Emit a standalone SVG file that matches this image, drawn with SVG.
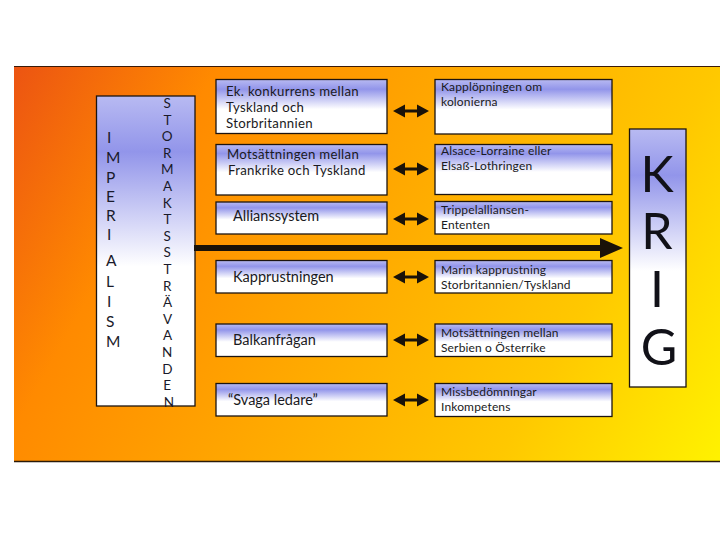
<svg xmlns="http://www.w3.org/2000/svg" width="720" height="540" viewBox="0 0 720 540">
  <defs>
    <linearGradient id="bg" gradientUnits="userSpaceOnUse" x1="14" y1="66" x2="720" y2="462">
      <stop offset="0" stop-color="#ec5412"/>
      <stop offset="0.22" stop-color="#ff8a00"/>
      <stop offset="0.5" stop-color="#ffaa00"/>
      <stop offset="0.76" stop-color="#ffc800"/>
      <stop offset="1" stop-color="#fff200"/>
    </linearGradient>
    <linearGradient id="boxg" x1="0" y1="0" x2="0" y2="1">
      <stop offset="0" stop-color="#b8baf2"/>
      <stop offset="0.18" stop-color="#9295ea"/>
      <stop offset="0.55" stop-color="#ffffff"/>
      <stop offset="1" stop-color="#ffffff"/>
    </linearGradient>
    <path id="dbl" d="M0,0 L12,-6.5 L12,-1.6 L24,-1.6 L24,-6.5 L36,0 L24,6.5 L24,1.6 L12,1.6 L12,6.5 Z"/>
  </defs>
  <style>
    .box { fill: url(#boxg); stroke: #1c1410; stroke-width: 1.3; }
    .mt { font-family: Lato, "Open Sans", "DejaVu Sans", sans-serif; font-size: 14.5px; fill: #1a1a22; }
    .mt2 { font-family: Lato, "Open Sans", "DejaVu Sans", sans-serif; font-size: 13.2px; letter-spacing: 0.3px; fill: #1a1a22; }
    .rt { font-family: Lato, "Open Sans", "DejaVu Sans", sans-serif; font-size: 12px; letter-spacing: 0.15px; fill: #1a1a22; }
    .big { font-family: Lato, "Open Sans", "DejaVu Sans", sans-serif; font-size: 15.5px; fill: #1a1a2a; }
    .vert { font-family: Lato, "Open Sans", "DejaVu Sans", sans-serif; font-size: 13.5px; fill: #1a1a2a; text-anchor: middle; }
    .krig { font-family: Lato, "Open Sans", "DejaVu Sans", sans-serif; font-size: 50px; fill: #111118; text-anchor: middle; }
    .conn { fill: #1a1208; }
  </style>

  <g id="background">
    <rect x="14" y="66" width="706" height="396" fill="url(#bg)"/>
    <line x1="14" y1="66.5" x2="720" y2="66.5" stroke="#3a1a08" stroke-width="1.2"/>
    <line x1="14" y1="461.5" x2="720" y2="461.5" stroke="#2a1a08" stroke-width="1.5"/>
  </g>

  <g id="left">
    <rect class="box" x="96.5" y="96" width="98.5" height="310"/>
    <text class="big">
      <tspan x="107" y="143">I</tspan>
      <tspan x="106" y="163">M</tspan>
      <tspan x="106" y="183">P</tspan>
      <tspan x="106" y="202">E</tspan>
      <tspan x="106" y="221">R</tspan>
      <tspan x="107" y="240">I</tspan>
      <tspan x="106" y="266">A</tspan>
      <tspan x="106" y="287">L</tspan>
      <tspan x="107" y="307">I</tspan>
      <tspan x="106" y="327">S</tspan>
      <tspan x="106" y="347">M</tspan>
    </text>
    <text class="vert">
      <tspan x="169" y="108">S</tspan>
      <tspan x="169" y="124.6">T</tspan>
      <tspan x="169" y="141.2">O</tspan>
      <tspan x="169" y="157.8">R</tspan>
      <tspan x="169" y="174.4">M</tspan>
      <tspan x="169" y="191">A</tspan>
      <tspan x="169" y="207.6">K</tspan>
      <tspan x="169" y="224.2">T</tspan>
      <tspan x="169" y="240.8">S</tspan>
      <tspan x="169" y="257.4">S</tspan>
      <tspan x="169" y="274">T</tspan>
      <tspan x="169" y="290.6">R</tspan>
      <tspan x="169" y="307.2">Ä</tspan>
      <tspan x="169" y="323.8">V</tspan>
      <tspan x="169" y="340.4">A</tspan>
      <tspan x="169" y="357">N</tspan>
      <tspan x="169" y="373.6">D</tspan>
      <tspan x="169" y="390.2">E</tspan>
      <tspan x="169" y="406.8">N</tspan>
    </text>
  </g>

  <g id="m1">
    <rect class="box" x="216" y="79.5" width="171" height="54"/>
    <text class="mt2"><tspan x="226" y="95.5">Ek. konkurrens mellan</tspan><tspan x="226" y="111.5">Tyskland och</tspan><tspan x="226" y="127.5">Storbritannien</tspan></text>
  </g>
  <g id="m2">
    <rect class="box" x="216" y="144.5" width="171" height="50.5"/>
    <text class="mt2"><tspan x="227" y="158.5">Motsättningen mellan</tspan><tspan x="228" y="174.5">Frankrike och Tyskland</tspan></text>
  </g>
  <g id="m3">
    <rect class="box" x="216" y="202" width="171" height="32"/>
    <text class="mt" x="233" y="220.5">Allianssystem</text>
  </g>
  <g id="m4">
    <rect class="box" x="216" y="260.5" width="171" height="32.5"/>
    <text class="mt" x="233" y="282">Kapprustningen</text>
  </g>
  <g id="m5">
    <rect class="box" x="216" y="324" width="171" height="32.5"/>
    <text class="mt" x="233" y="345">Balkanfrågan</text>
  </g>
  <g id="m6">
    <rect class="box" x="216" y="383.5" width="171" height="32.5"/>
    <text class="mt" x="228" y="405">“Svaga ledare”</text>
  </g>

  <g id="r1">
    <rect class="box" x="435" y="79.5" width="177" height="54.5"/>
    <text class="rt"><tspan x="441" y="91">Kapplöpningen om</tspan><tspan x="441" y="106">kolonierna</tspan></text>
  </g>
  <g id="r2">
    <rect class="box" x="435" y="144.5" width="177" height="50"/>
    <text class="rt"><tspan x="441" y="155">Alsace-Lorraine eller</tspan><tspan x="441" y="170">Elsaß-Lothringen</tspan></text>
  </g>
  <g id="r3">
    <rect class="box" x="435" y="201.5" width="177" height="32.5"/>
    <text class="rt"><tspan x="441" y="213.5">Trippelalliansen-</tspan><tspan x="441" y="228.5">Ententen</tspan></text>
  </g>
  <g id="r4">
    <rect class="box" x="435" y="260.5" width="177" height="32.5"/>
    <text class="rt"><tspan x="441" y="273.5">Marin kapprustning</tspan><tspan x="441" y="288.5">Storbritannien/Tyskland</tspan></text>
  </g>
  <g id="r5">
    <rect class="box" x="435" y="324" width="177" height="32.5"/>
    <text class="rt"><tspan x="441" y="336.5">Motsättningen mellan</tspan><tspan x="441" y="351.5">Serbien o Österrike</tspan></text>
  </g>
  <g id="r6">
    <rect class="box" x="435" y="383.5" width="177" height="33"/>
    <text class="rt"><tspan x="441" y="396">Missbedömningar</tspan><tspan x="441" y="411">Inkompetens</tspan></text>
  </g>

  <g id="krig">
    <rect class="box" x="629.5" y="129" width="56.5" height="258"/>
    <text class="krig"><tspan x="657" y="192">K</tspan><tspan x="657" y="249">R</tspan><tspan x="657" y="307">I</tspan><tspan x="659" y="365">G</tspan></text>
  </g>

  <g id="connectors" class="conn">
    <path d="M194,245 L600,245 L600,238 L623,248 L600,258 L600,251 L194,251 Z"/>
    <use href="#dbl" x="393" y="111"/>
    <use href="#dbl" x="393" y="169"/>
    <use href="#dbl" x="393" y="219"/>
    <use href="#dbl" x="393" y="277"/>
    <use href="#dbl" x="393" y="340"/>
    <use href="#dbl" x="393" y="400"/>
  </g>
</svg>
